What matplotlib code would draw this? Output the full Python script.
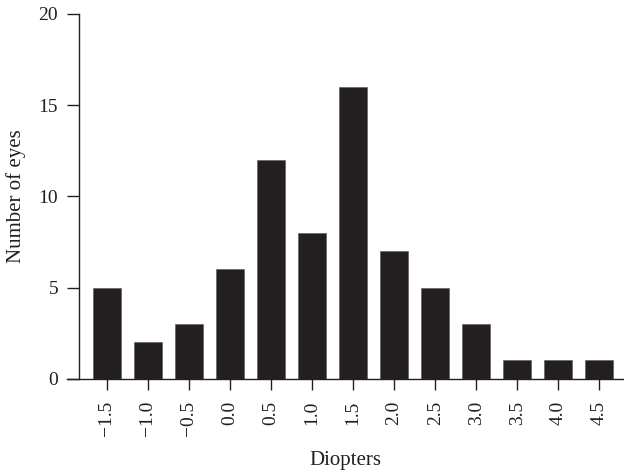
import matplotlib
matplotlib.use('Agg')
import matplotlib.pyplot as plt
import numpy as np

# datos
diopters = ['\u22121.5', '\u22121.0', '\u22120.5', '0.0', '0.5', '1.0', '1.5',
            '2.0', '2.5', '3.0', '3.5', '4.0', '4.5']
n_eyes = [5, 2, 3, 6, 12, 8, 16, 7, 5, 3, 1, 1, 1]

dark = '#231f20'

plt.rcParams.update({
    'font.family': ['Liberation Serif', 'DejaVu Serif'],
    'font.size': 14,
    'axes.linewidth': 1.0,
    'axes.edgecolor': dark,
    'xtick.color': dark,
    'ytick.color': dark,
    'text.color': dark,
    'axes.labelcolor': dark,
})

fig = plt.figure(figsize=(6.24, 4.70), dpi=100)
ax = fig.add_axes([67/624, 1 - 378.7/470, 557/624, (378.7 - 14)/470])

pos = np.arange(len(n_eyes))
ax.bar(pos, n_eyes, width=0.68, color=dark, edgecolor='#5a5657', linewidth=0.4)

ax.set_xlim(-0.967, 12.6)
ax.set_ylim(0, 20)
ax.set_yticks([0, 5, 10, 15, 20])
ax.set_xticks(pos)
ax.set_xticklabels(diopters, rotation=90)

ax.spines['top'].set_visible(False)
ax.spines['right'].set_visible(False)
ax.spines['left'].set_position(('data', -0.675))

ax.tick_params(axis='y', direction='out', length=8.6, width=1.0, pad=6.5, labelsize=14)
ax.tick_params(axis='x', direction='out', length=8.2, width=1.0, pad=7.5, labelsize=14)

ax.set_xlabel('Diopters', fontsize=15, labelpad=11)
ax.set_ylabel('Number of eyes', fontsize=15, labelpad=9)

fig.savefig('out.png', dpi=100)
